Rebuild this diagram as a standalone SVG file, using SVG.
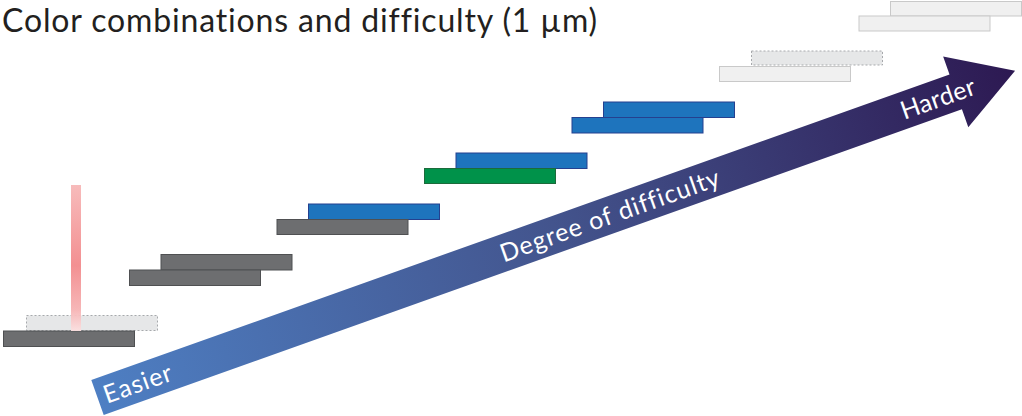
<svg xmlns="http://www.w3.org/2000/svg" width="1022" height="416" viewBox="0 0 1022 416">
  <defs>
    <linearGradient id="arrowGrad" gradientUnits="userSpaceOnUse" x1="0" y1="0" x2="974" y2="0">
      <stop offset="0" stop-color="#4e7fc3"/>
      <stop offset="0.5" stop-color="#43548d"/>
      <stop offset="1" stop-color="#2d1952"/>
    </linearGradient>
    <linearGradient id="beamGrad" x1="0" y1="0" x2="0" y2="1">
      <stop offset="0" stop-color="#f7b8b8"/>
      <stop offset="0.55" stop-color="#f28a8c"/>
      <stop offset="0.85" stop-color="#f6b2b3"/>
      <stop offset="1" stop-color="#fbe0e0"/>
    </linearGradient>
    <style>
      .gray { fill: #6d6e70; stroke: #4f5052; stroke-width: 1; }
      .blue { fill: #1e74bd; stroke: #25408f; stroke-width: 1; }
      .green { fill: #00924a; stroke: #1c6b3b; stroke-width: 1; }
      .pale { fill: #f0f0f0; stroke: #c9c9c9; stroke-width: 1; }
      .dashed { fill: #e6e7e8; stroke: #a7a9ac; stroke-width: 1; stroke-dasharray: 2 2; }
      .label { font-family: Lato, "Liberation Sans", sans-serif; fill: #ffffff; font-size: 25px; letter-spacing: 1px; }
      .title { font-family: Lato, "Liberation Sans", sans-serif; fill: #231f20; font-size: 32px; letter-spacing: 0.85px; }
    </style>
  </defs>

  <rect width="1022" height="416" fill="#ffffff"/>

  <text class="title" x="2" y="32">Color combinations and difficulty (1 µm)</text>

  <g id="difficulty-arrow" transform="translate(97.5 397.5) rotate(-19.6)">
    <path d="M0,-18.5 L911,-18.5 L911,-37.5 L974,0 L911,37.5 L911,18.5 L0,18.5 Z" fill="url(#arrowGrad)"/>
    <text class="label" x="7" y="9">Easier</text>
    <text class="label" x="544" y="9" text-anchor="middle">Degree of difficulty</text>
    <text class="label" x="892" y="9" text-anchor="middle" style="letter-spacing:0.3px">Harder</text>
  </g>

  <g id="step-1">
    <rect class="dashed" x="26.5" y="315.5" width="131" height="15"/>
    <rect class="gray" x="3.5" y="331" width="131" height="15.5"/>
  </g>
  <g id="laser-beam">
    <rect x="71" y="185" width="10" height="146" fill="url(#beamGrad)" opacity="0.95"/>
  </g>

  <g id="step-2">
    <rect class="gray" x="161" y="254.5" width="131" height="15.5"/>
    <rect class="gray" x="129.5" y="270" width="131" height="15.5"/>
  </g>

  <g id="step-3">
    <rect class="blue" x="308.5" y="204" width="131" height="15.5"/>
    <rect class="gray" x="277" y="219.5" width="131" height="15"/>
  </g>

  <g id="step-4">
    <rect class="blue" x="456" y="153" width="131" height="15.5"/>
    <rect class="green" x="424.5" y="168.5" width="131" height="15"/>
  </g>

  <g id="step-5">
    <rect class="blue" x="603.5" y="102" width="131" height="15.5"/>
    <rect class="blue" x="572" y="117.5" width="131" height="15.5"/>
  </g>

  <g id="step-6">
    <rect class="dashed" x="751.5" y="51" width="131" height="14"/>
    <rect class="pale" x="719.5" y="66.5" width="131" height="15"/>
  </g>

  <g id="step-7">
    <rect class="pale" x="890.5" y="1.5" width="131" height="14.5"/>
    <rect class="pale" x="859" y="16" width="131" height="15"/>
  </g>
</svg>
